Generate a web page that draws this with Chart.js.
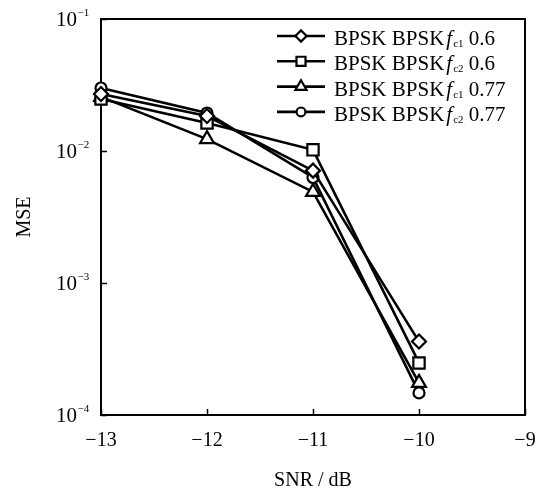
<!DOCTYPE html>
<html>
<head>
<meta charset="utf-8">
<script src="https://cdn.jsdelivr.net/npm/chart.js@4/dist/chart.umd.min.js"></script>
<style>
  html, body { margin: 0; padding: 0; background: #fff; }
  #wrap { width: 550px; height: 498px; }
</style>
</head>
<body>
<div id="wrap"><canvas id="c" width="550" height="498"></canvas></div>
<script>
// SNR values (dB) on the horizontal axis
const snr = [-13, -12, -11, -10];

// MSE per curve
const mseFc1_06  = [0.0270, 0.0184, 0.0071, 0.00036];
const mseFc2_06  = [0.0248, 0.0163, 0.0102, 0.000248];
const mseFc1_077 = [0.0257, 0.0123, 0.0049, 0.000175];
const mseFc2_077 = [0.0300, 0.0194, 0.0063, 0.000147];

// legend pieces: prefix, subscript index, suffix
const seriesNames = [
  ['BPSK BPSK', 'c1', ' 0.6'],
  ['BPSK BPSK', 'c2', ' 0.6'],
  ['BPSK BPSK', 'c1', ' 0.77'],
  ['BPSK BPSK', 'c2', ' 0.77']
];

const yDecades = [1e-1, 1e-2, 1e-3, 1e-4];
const yExponents = [-1, -2, -3, -4];
const xTicks = [-13, -12, -11, -10, -9];

const SERIF = '"Liberation Serif", "Times New Roman", serif';

function pts(ys) { return snr.map((x, i) => ({ x: x, y: ys[i] })); }

function makeSet(label, ys, style, r) {
  return {
    label: label,
    data: pts(ys),
    borderColor: '#000',
    borderWidth: 2.6,
    pointStyle: style,
    pointRadius: r,
    pointHoverRadius: r,
    pointBackgroundColor: '#fff',
    pointBorderColor: '#000',
    pointBorderWidth: 2.2,
    tension: 0,
    fill: false,
    clip: false
  };
}

const datasets = [
  makeSet('fc1 0.6', mseFc1_06, 'rectRot', 7),
  makeSet('fc2 0.6', mseFc2_06, 'rect', 8),
  makeSet('fc1 0.77', mseFc1_077, 'triangle', 8),
  makeSet('fc2 0.77', mseFc2_077, 'circle', 5.5)
];

// frame, inward ticks, power-of-ten labels and legend
const decorPlugin = {
  id: 'decor',
  beforeDatasetsDraw(chart) {
    const ctx = chart.ctx;
    const a = chart.chartArea;
    const xs = chart.scales.x, ys = chart.scales.y;
    ctx.save();
    ctx.strokeStyle = '#000';
    ctx.lineWidth = 2;
    ctx.strokeRect(a.left, a.top, a.right - a.left, a.bottom - a.top);
    ctx.lineWidth = 1.5;
    ctx.beginPath();
    xTicks.forEach(v => {
      const px = Math.round(xs.getPixelForValue(v)) + 0.5;
      ctx.moveTo(px, a.bottom);
      ctx.lineTo(px, a.bottom - 6);
    });
    yDecades.forEach(v => {
      const py = Math.round(ys.getPixelForValue(v)) + 0.5;
      ctx.moveTo(a.left, py);
      ctx.lineTo(a.left + 6, py);
    });
    ctx.stroke();

    // y tick labels as 10 with a superscript exponent
    ctx.fillStyle = '#000';
    ctx.textBaseline = 'alphabetic';
    yDecades.forEach((v, i) => {
      const py = ys.getPixelForValue(v);
      ctx.font = '21px ' + SERIF;
      ctx.textAlign = 'right';
      ctx.fillText('10', 77, py + 7);
      ctx.font = '11px ' + SERIF;
      ctx.textAlign = 'left';
      ctx.fillText('\u2212' + Math.abs(yExponents[i]), 77.5, py - 3);
    });
    ctx.restore();
  },
  afterDraw(chart) {
    const ctx = chart.ctx;
    ctx.save();
    const x0 = 277, x1 = 325, tx = 334;
    chart.data.datasets.forEach((ds, i) => {
      const cy = 36 + i * 25.3;
      ctx.strokeStyle = '#000';
      ctx.lineWidth = 2.6;
      ctx.beginPath();
      ctx.moveTo(x0, cy);
      ctx.lineTo(x1, cy);
      ctx.stroke();
      ctx.fillStyle = '#fff';
      ctx.lineWidth = 2.2;
      Chart.helpers.drawPoint(ctx, {
        pointStyle: ds.pointStyle,
        radius: ds.pointRadius * 0.8,
        rotation: 0,
        borderWidth: 2.2
      }, (x0 + x1) / 2, cy);

      const parts = seriesNames[i];
      ctx.fillStyle = '#000';
      ctx.textAlign = 'left';
      ctx.textBaseline = 'alphabetic';
      const base = cy + 9;
      let x = tx;
      ctx.font = '21px ' + SERIF;
      ctx.fillText(parts[0], x, base);
      x += ctx.measureText(parts[0]).width + 2;
      ctx.font = 'italic 21px ' + SERIF;
      ctx.fillText('f', x, base);
      x += ctx.measureText('f').width + 1;
      ctx.font = '11px ' + SERIF;
      ctx.fillText(parts[1], x, base + 2);
      x += ctx.measureText(parts[1]).width;
      ctx.font = '21px ' + SERIF;
      ctx.fillText(parts[2], x, base);
    });
    ctx.restore();
  }
};

new Chart(document.getElementById('c'), {
  type: 'line',
  data: { datasets: datasets },
  options: {
    responsive: false,
    animation: false,
    devicePixelRatio: 1,
    layout: { padding: { top: 19, right: 25, left: 0, bottom: 0 } },
    plugins: {
      legend: { display: false },
      tooltip: { enabled: false }
    },
    scales: {
      x: {
        type: 'linear',
        min: -13,
        max: -9,
        grid: { display: false, drawTicks: false },
        border: { display: false },
        afterBuildTicks(scale) { scale.ticks = xTicks.map(v => ({ value: v })); },
        afterFit(scale) { scale.height = 83; },
        ticks: {
          color: '#000',
          padding: 14,
          font: { family: SERIF, size: 20 },
          callback: v => (v < 0 ? '\u2212' : '') + Math.abs(v)
        },
        title: {
          display: true,
          text: 'SNR / dB',
          color: '#000',
          font: { family: SERIF, size: 20 },
          padding: { top: 0, bottom: 5 }
        }
      },
      y: {
        type: 'logarithmic',
        min: 1e-4,
        max: 1e-1,
        grid: { display: false, drawTicks: false },
        border: { display: false },
        ticks: { display: false },
        afterFit(scale) { scale.width = 101; },
        title: {
          display: true,
          text: 'MSE',
          color: '#000',
          font: { family: SERIF, size: 20 },
          padding: { top: 13, bottom: 0 }
        }
      }
    }
  },
  plugins: [decorPlugin]
});
</script>
</body>
</html>
